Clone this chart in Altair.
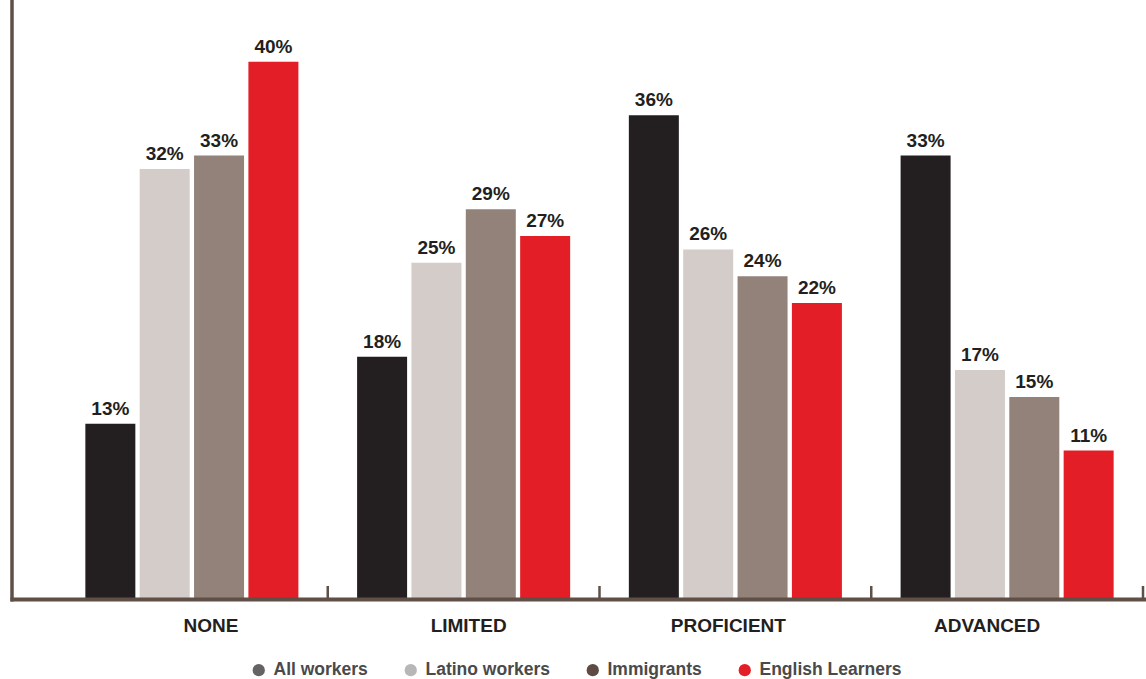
import altair as alt
import pandas as pd

levels = ["NONE", "LIMITED", "PROFICIENT", "ADVANCED"]
groups = ["All workers", "Latino workers", "Immigrants", "English Learners"]
all_workers = [13, 18, 36, 33]
latino_workers = [32, 25, 26, 17]
immigrants = [33, 29, 24, 15]
english_learners = [40, 27, 22, 11]

bar_colors = ["#231f20", "#d4ccc9", "#928279", "#e31e26"]
legend_colors = ["#666365", "#b7b7b7", "#5f4b43", "#e31e26"]

rows = []
for series_name, vals in zip(groups, [all_workers, latino_workers, immigrants, english_learners]):
    for lvl, v in zip(levels, vals):
        rows.append({"level": lvl, "group": series_name, "series": series_name,
                     "value": v, "label": f"{v}%"})
df = pd.DataFrame(rows)

W, H = 1087, 598
FONT = "Liberation Sans"
AXIS_COLOR = "#5f4f47"

x_enc = alt.X("level:N", sort=levels,
              scale=alt.Scale(paddingInner=0, paddingOuter=0),
              axis=alt.Axis(title=None, domain=False, ticks=False, labelAngle=0,
                            labelFont=FONT, labelFontSize=19, labelFontWeight="bold",
                            labelColor="#231f20", labelPadding=18,
                            labelOffset={"expr": "datum.value == 'NONE' ? 19 : datum.value == 'LIMITED' ? 5 : datum.value == 'PROFICIENT' ? -7 : -20"}))
xo_enc = alt.XOffset("group:N", sort=groups,
                     scale=alt.Scale(domain=groups, paddingInner=0.08, paddingOuter=0.54))
y_enc = alt.Y("value:Q", scale=alt.Scale(domain=[0, 44.6], nice=False), axis=None)

base = alt.Chart(df)

bars = base.mark_bar().encode(
    x=x_enc, xOffset=xo_enc, y=y_enc,
    fill=alt.Fill("group:N", scale=alt.Scale(domain=groups, range=bar_colors), legend=None),
)

labels = base.mark_text(font=FONT, fontSize=19, fontWeight="bold", color="#231f20",
                        baseline="alphabetic", dy=-9).encode(
    x=x_enc, xOffset=xo_enc, y=y_enc, text="label:N"
)

legend_pts = base.mark_point(filled=True, opacity=0).encode(
    x=x_enc, y=y_enc,
    color=alt.Color("series:N", scale=alt.Scale(domain=groups, range=legend_colors),
                    legend=alt.Legend(title=None, orient="none", legendX=194, legendY=661,
                                      direction="horizontal", symbolType="circle",
                                      symbolSize=150, symbolOpacity=1, symbolStrokeWidth=0,
                                      labelFont=FONT, labelFontSize=17.5, labelFontWeight="bold",
                                      labelColor="#4a4a4a", labelOffset=6, columnPadding=34,
                                      padding=0)),
)

axis_df = pd.DataFrame({"level": levels})
ticks = alt.Chart(axis_df).mark_rule(color=AXIS_COLOR, strokeWidth=2.5).encode(
    x=alt.X("level:N", sort=levels, bandPosition=1),
    y=alt.value(586), y2=alt.value(599),
)

one = pd.DataFrame({"k": [0]})
yaxis_line = alt.Chart(one).mark_rule(color=AXIS_COLOR, strokeWidth=3.5).encode(
    x=alt.value(-44), y=alt.value(0), y2=alt.value(601.5)
)
xaxis_line = alt.Chart(one).mark_rule(color=AXIS_COLOR, strokeWidth=4).encode(
    x=alt.value(-45.5), x2=alt.value(W + 3), y=alt.value(599.5)
)

chart = alt.layer(bars, labels, legend_pts, ticks, yaxis_line, xaxis_line).resolve_legend(
    color="independent", fill="independent"
).properties(
    width=W, height=H,
    autosize=alt.AutoSizeParams(type="none"),
    padding={"left": 56, "top": 0, "right": 3, "bottom": 81},
).configure(background="white", view=alt.ViewConfig(stroke=None))

chart.save("out.html", embed_options={"renderer": "svg", "actions": False})
